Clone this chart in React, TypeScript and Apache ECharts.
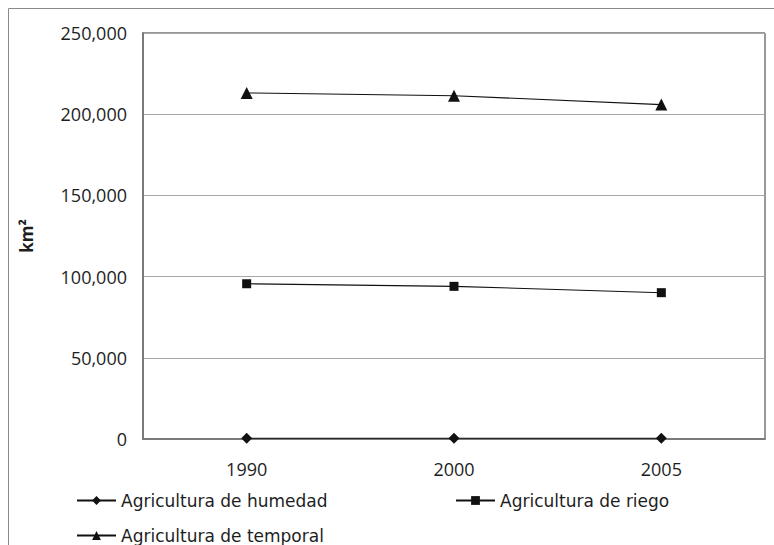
import React, { useEffect, useRef } from "react";
import * as echarts from "echarts";

const years = ["1990", "2000", "2005"];
const humedad = [500, 480, 460];
const riego = [95600, 94000, 90100];
const temporal = [213100, 211400, 205900];

const seriesNames = [
  "Agricultura de humedad",
  "Agricultura de riego",
  "Agricultura de temporal",
];

const yTicks = { min: 0, max: 250000, interval: 50000 };

const FONT = "'Open Sans', sans-serif";
const LEGEND_FONT = "'DejaVu Sans', sans-serif";
const TEXT = "#1e1e1e";

// one legend block per entry so each sits in its own column/row
const legendSlot = (name: string, left: number, top: number) => ({
  left,
  top,
  padding: 0,
  orient: "horizontal",
  itemWidth: 39,
  itemHeight: 11,
  data: [name],
  textStyle: { fontFamily: LEGEND_FONT, fontSize: 17, color: TEXT },
});

export default function App() {
  const ref = useRef<HTMLDivElement>(null);

  useEffect(() => {
    if (!ref.current) return;
    const chart = echarts.init(ref.current, null, { renderer: "svg" });

    const mk = (name: string, data: number[], symbol: string, size: number) => ({
      name,
      type: "line",
      data,
      symbol,
      symbolSize: size,
      showAllSymbol: true,
      lineStyle: { color: "#111", width: 1.1 },
      itemStyle: { color: "#111" },
      emphasis: { disabled: true },
    });

    chart.setOption({
      animation: false,
      backgroundColor: "#fff",
      textStyle: { fontFamily: FONT },
      graphic: [
        {
          type: "rect",
          shape: { x: 8.5, y: 8.5, width: 900, height: 700 },
          style: { fill: "none", stroke: "#8a8a8a", lineWidth: 1 },
          silent: true,
        },
      ],
      grid: {
        left: 143,
        top: 33,
        right: 774 - 765,
        bottom: 545 - 439,
        show: true,
        borderColor: "#303030",
        borderWidth: 1,
      },
      legend: [
        legendSlot(seriesNames[0], 76, 492),
        legendSlot(seriesNames[1], 455, 492),
        legendSlot(seriesNames[2], 76, 527),
      ],
      xAxis: {
        type: "category",
        data: years,
        boundaryGap: true,
        axisLine: { lineStyle: { color: "#7a7a7a", width: 2 } },
        axisTick: { show: false },
        axisLabel: { fontSize: 18, color: TEXT, margin: 21, fontFamily: FONT },
      },
      yAxis: {
        type: "value",
        min: yTicks.min,
        max: yTicks.max,
        interval: yTicks.interval,
        name: "km²",
        nameLocation: "middle",
        nameGap: 108,
        nameTextStyle: { fontSize: 17, fontWeight: "bold", color: TEXT, fontFamily: FONT },
        axisLine: { show: true, lineStyle: { color: "#7a7a7a", width: 2 } },
        axisTick: { show: false },
        splitLine: { lineStyle: { color: "#a8a8a8", width: 1 } },
        axisLabel: {
          fontSize: 18,
          color: TEXT,
          margin: 16,
          fontFamily: FONT,
          formatter: (v: number) => v.toLocaleString("en-US"),
        },
      },
      series: [
        mk(seriesNames[0], humedad, "diamond", 11),
        mk(seriesNames[1], riego, "rect", 9),
        mk(seriesNames[2], temporal, "triangle", 12),
      ],
    });

    return () => chart.dispose();
  }, []);

  return (
    <div
      ref={ref}
      style={{ position: "fixed", left: 0, top: 0, width: 774, height: 545 }}
    />
  );
}
